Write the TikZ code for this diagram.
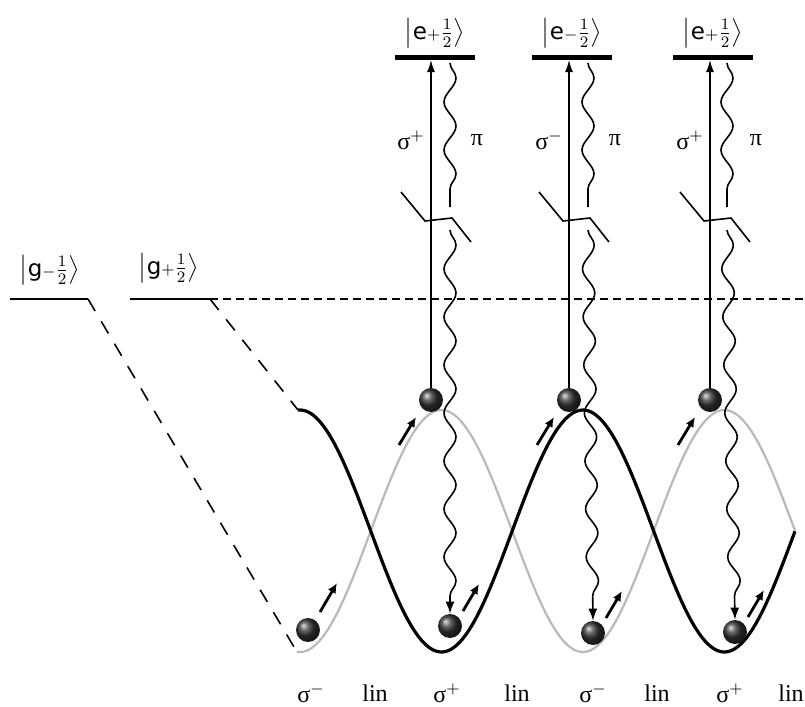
\documentclass[tikz,border=0pt]{standalone}
\usepackage{amsmath}
\usepackage{fontspec}
\setmainfont{Liberation Serif}
\setsansfont{DejaVu Sans}
\usetikzlibrary{arrows.meta,decorations.pathmorphing}

\tikzset{
  level/.style={line width=2.5pt},
  glevel/.style={line width=1.4pt},
  atom/.style={circle, minimum size=12pt, inner sep=0pt, shading=ball, ball color=black!80},
  pump/.style={line width=0.7pt},
  decay/.style={line width=0.8pt, decorate, decoration={snake, amplitude=3pt, segment length=24pt}},
  kick/.style={line width=1.4pt, -{Latex[length=5pt,width=4.5pt]}},
  pol/.style={font=\fontsize{12}{14}\selectfont},
  ket/.style={font=\fontsize{11.5}{14}\selectfont, inner sep=0pt},
}

\begin{document}
\begin{tikzpicture}[x=5pt,y=-5pt]
\useasboundingbox (0,0) rectangle (80.5,70.7);
% ground states
\draw[glevel] (1.0,29.9) -- (8.8,29.9) coordinate (gm);
\draw[glevel] (13.0,29.9) -- (21.0,29.9) coordinate (gp);
\node[ket] at (5.0,27.0) {$\left|\textsf{g}{\scriptstyle-}\tfrac{1}{2}\right\rangle$};
\node[ket] at (16.9,26.8) {$\left|\textsf{g}{\scriptstyle+}\tfrac{1}{2}\right\rangle$};
\draw[dashed, line width=1pt, dash pattern=on 4pt off 2.5pt] (gp) -- (80.5,29.9);
% light shifted potentials (period 28.29, i.e. 12.725 degrees per unit)
\coordinate (gstart) at (29.7,65.2);
\coordinate (bstart) at (29.8,41.0);
\draw[gray!55, line width=1.1pt, smooth, domain=29.7:79.5, samples=200] plot(\x, {53.1+12.1*cos(12.725*(\x-30))});
\draw[line width=1.6pt, smooth, domain=29.8:79.5, samples=200] plot(\x, {53.1-12.1*cos(12.725*(\x-30))});
\draw[dashed, line width=0.8pt, dash pattern=on 7pt off 6pt] (gm) -- (gstart);
\draw[dashed, line width=0.8pt, dash pattern=on 7pt off 6pt] (gp) -- (bstart);
% atom at the start
\node[atom] (start) at (30.8,63.0) {};
\draw[kick] ([shift={(1.2,-1.8)}]start.center) -- ([shift={(2.9,-4.7)}]start.center);
% pumping and decay, one column per excited state
\foreach \n/\xa/\xw/\xt/\xb/\yb/\s in {1/43.1/45.0/43.5/45.0/62.6/+, 2/56.9/58.8/57.2/59.3/63.3/-, 3/71.0/72.7/71.3/73.5/63.2/+}{
  \draw[level] (\xt-4,5.7) -- (\xt+4,5.7);
  \node[ket] at (\xt,3.3) {$\left|\textsf{e}{\scriptstyle\s}\tfrac{1}{2}\right\rangle$};
  \coordinate (bar\n) at (\xa,6.0);
  \node[atom] (up\n) at (\xa,40.0) {};
  \node[atom] (down\n) at (\xb,\yb) {};
  \draw[pump] (up\n.north) -- (\xa,21.5);
  \draw[pump, -{Latex[length=6pt,width=4pt]}] (\xa,22.8) -- (bar\n);
  \draw[line width=0.8pt] (\xa-3.0,19.2) -- (\xa-0.6,22.1) -- (\xa+2.1,21.8) -- (\xa+4.0,24.2);
  \draw[decay] (\xw,6.3) -- (\xw,20.7);
  \draw[decay, decoration={post length=5pt}, -{Latex[length=6pt,width=4.5pt]}] (\xw,23.0) -- (down\n.north);
  \node[pol] at (\xa-2.0,14.0) {σ\textsuperscript{$\s$}};
  \node[pol] at (\xa+4.6,14.0) {π};
  \draw[kick] ([shift={(-3.2,4.5)}]up\n.center) -- ([shift={(-1.5,1.7)}]up\n.center);
  \draw[kick] ([shift={(1.3,-1.5)}]down\n.center) -- ([shift={(2.9,-4.2)}]down\n.center);
}
% polarisation along the standing wave
\foreach \x/\t in {31.1/σ\textsuperscript{$-$}, 37.5/lin, 44.7/σ\textsuperscript{$+$}, 51.7/lin, 59.3/σ\textsuperscript{$-$}, 65.7/lin, 73.0/σ\textsuperscript{$+$}, 79.1/lin}
  \node[pol] at (\x,69.3) {\t};
\end{tikzpicture}
\end{document}
